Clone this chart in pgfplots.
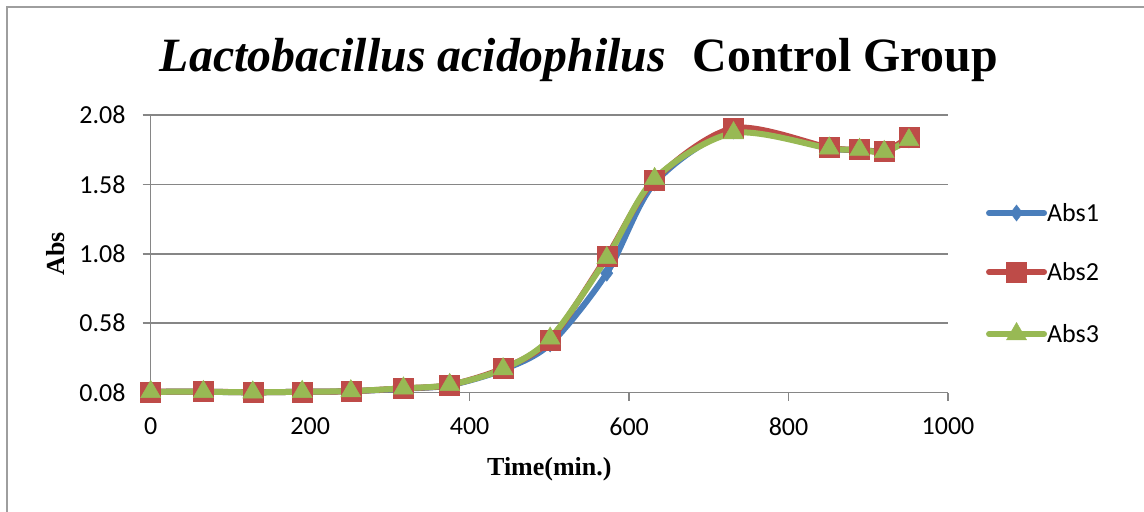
\documentclass[border=0pt]{standalone}
\usepackage{fontspec}
\setmainfont{Liberation Serif}
\newfontfamily\carlito{Carlito}
\usepackage{graphicx}
\usepackage{pgfplots}
\usepackage{pgfplotstable}
\pgfplotsset{compat=1.18}
\definecolor{cblue}{HTML}{4A7EBB}
\definecolor{cred}{HTML}{BE4B48}
\definecolor{cgreen}{HTML}{98B954}
\definecolor{axgray}{HTML}{868686}

\pgfplotstableread{
x y
0 0.086
66 0.086
128 0.082
190 0.086
251 0.090
317 0.108
375 0.133
442 0.245
501 0.43
572 0.94
632 1.59
731 1.965
851 1.84
889 1.83
920 1.82
951 1.90
}\absone
\pgfplotstableread{
x y
0 0.086
66 0.087
128 0.082
190 0.086
251 0.090
317 0.111
375 0.135
442 0.255
501 0.46
572 1.06
632 1.61
731 1.985
851 1.845
889 1.83
920 1.82
951 1.92
}\abstwo
\pgfplotstableread{
x y
0 0.086
66 0.086
128 0.082
190 0.086
251 0.091
317 0.111
375 0.136
442 0.25
501 0.47
572 1.05
632 1.62
731 1.95
851 1.84
889 1.83
920 1.815
951 1.90
}\absthree

\begin{document}
\begin{tikzpicture}
\useasboundingbox (0,0) rectangle (1144bp,-512bp);
\fill[white] (0,0) rectangle (1144bp,-512bp);
\draw[axgray!80, line width=1.5bp] (7bp,-512bp) -- (7bp,-7bp) -- (1144bp,-7bp);
\node[anchor=base, inner sep=0pt] at (579bp,-71.7bp) {\resizebox{838bp}{!}{\fontsize{50bp}{60bp}\selectfont\textbf{\textit{Lactobacillus acidophilus}}\hspace{28bp}\textbf{Control Group}}};
\begin{axis}[
  at={(150.7bp,-392.6bp)}, anchor=south west,
  scale only axis, width=797.3bp, height=277.6bp,
  xmin=0, xmax=1000, ymin=0.08, ymax=2.08,
  axis x line*=bottom, axis y line*=left,
  axis line style={axgray, line width=1.5bp},
  xtick={0,200,400,600,800,1000},
  xticklabels={0,200,400,600,800,1000},
  ytick={0.08,0.58,1.08,1.58,2.08},
  yticklabels={0.08,0.58,1.08,1.58,2.08},
  /pgf/number format/assume math mode=true,
  tick align=outside, major tick length=8bp,
  tick style={axgray, line width=1.5bp},
  ymajorgrids, grid style={axgray, line width=1.5bp},
  ticklabel style={font=\carlito\fontsize{26bp}{30bp}\selectfont},
  yticklabel style={inner sep=0pt, xshift=-17bp},
  xticklabel style={inner sep=0pt, yshift=-17bp},
  xlabel={Time(min.)}, ylabel={Abs},
  label style={font=\bfseries\fontsize{26bp}{30bp}\selectfont},
  xlabel style={at={(axis description cs:0.5,-0.3004)}, anchor=base, inner sep=0pt},
  ylabel style={at={(axis description cs:-0.1075,0.5)}, anchor=base, inner sep=0pt},
  legend style={at={(1.0477,0.6776)}, anchor=north west, draw=none, fill=none,
    inner sep=0pt, outer sep=0pt, row sep=40.5bp,
    font=\carlito\fontsize{26bp}{30bp}\selectfont,
    nodes={inner sep=0pt, text height=17bp, text depth=0pt}},
  legend cell align=left,
  legend image code/.code={\draw[#1, line cap=round, mark repeat=2, mark phase=2] plot coordinates {(0bp,0bp) (27.5bp,0bp) (55bp,0bp)};},
  every axis plot/.append style={line width=6bp, smooth, tension=0.5},
  clip=false,
]
\addplot[cblue, mark=diamond*, mark size=8bp, mark options={fill=cblue, draw=cblue, line width=0.5bp}] table {\absone};
\addlegendentry{Abs1}
\addplot[cred, mark=square*, mark size=10bp, mark options={fill=cred, draw=cred, line width=0.5bp}] table {\abstwo};
\addlegendentry{Abs2}
\addplot[cgreen, mark=triangle*, mark size=11.5bp, mark options={fill=cgreen, draw=cgreen, line width=0.5bp}] table {\absthree};
\addlegendentry{Abs3}
\end{axis}
\end{tikzpicture}
\end{document}
